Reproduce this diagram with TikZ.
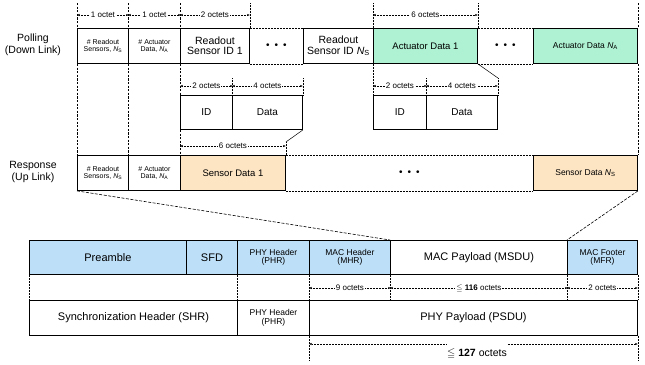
\documentclass[tikz,border=0pt]{standalone}
\usepackage{fontspec}
\setmainfont{Liberation Sans}
\usepackage{amssymb}
\usetikzlibrary{arrows.meta,calc}
\definecolor{cblue}{RGB}{189,223,248}
\definecolor{cgreen}{RGB}{174,242,211}
\definecolor{corange}{RGB}{253,229,196}
\newcommand{\fs}[1]{\fontsize{#1}{#1}\selectfont}
\newcommand{\ddd}{\textbullet\hspace{5pt}\textbullet\hspace{5pt}\textbullet}
\begin{document}
\begin{tikzpicture}[x=1pt,y=-1pt,
  cell/.style={draw, line width=0.9pt, fill=white, anchor=north west, inner sep=1pt, align=center, font=\fs{10}},
  dim/.style={densely dotted, line width=0.5pt, {Latex[length=2.5pt,width=2.2pt]}-{Latex[length=2.5pt,width=2.2pt]}},
  dimend/.style={densely dotted, line width=0.5pt, -{Latex[length=2.5pt,width=2.2pt]}},
  dl/.style={fill=white, inner sep=1pt, font=\fs{8}},
  guide/.style={dash pattern=on 2.2pt off 1.4pt, line width=0.6pt},
  ext/.style={densely dotted, line width=0.5pt},
  diag/.style={dash pattern=on 3pt off 1.5pt, line width=0.6pt}]
\useasboundingbox (0,0) rectangle (645,364);

% ---------- Polling row ----------
\node[cell, minimum width=51, minimum height=35, font=\fs{7}] (p1) at (77,28) {\# Readout\\Sensors,\ \textit{N}\textsubscript{S}};
\node[cell, minimum width=52, minimum height=35, font=\fs{7}] (p2) at (128,28) {\# Actuator\\Data,\ \textit{N}\textsubscript{A}};
\node[cell, minimum width=69, minimum height=35, font=\fs{10.5}] (p3) at (180,28) {Readout\\Sensor ID 1};
\node[cell, minimum width=70, minimum height=35, font=\fs{10.5}] (p4) at (303,28) {Readout\\Sensor ID \textit{N}\textsubscript{S}};
\node[cell, fill=cgreen, minimum width=104, minimum height=35, font=\fs{9.5}] (p5) at (373,28) {Actuator Data 1};
\node[cell, fill=cgreen, minimum width=104, minimum height=35, font=\fs{8.5}] (p6) at (533,28) {Actuator Data \textit{N}\textsubscript{A}};
\node[font=\fs{10}] (pd1) at ($(p3.east)!0.5!(p4.west)$) {\ddd};
\node[font=\fs{10}] (pd2) at ($(p5.east)!0.5!(p6.west)$) {\ddd};
\draw[ext] (p3.north east) -- (p4.north west);
\draw[ext] (p3.south east) -- (p4.south west);
\draw[ext] (p5.north east) -- (p6.north west);
\draw[ext] (p5.south east) -- (p6.south west);

% ---------- ID / Data ----------
\node[cell, minimum width=52, minimum height=34] (id1) at (180,95) {ID};
\node[cell, minimum width=70, minimum height=34] (da1) at (232,95) {Data};
\node[cell, minimum width=53, minimum height=34] (id2) at (373,95) {ID};
\node[cell, minimum width=71, minimum height=34] (da2) at (426,95) {Data};

% ---------- Response row ----------
\node[cell, minimum width=51, minimum height=35, font=\fs{7}] (r1) at (77,155) {\# Readout\\Sensors,\ \textit{N}\textsubscript{S}};
\node[cell, minimum width=52, minimum height=35, font=\fs{7}] (r2) at (128,155) {\# Actuator\\Data,\ \textit{N}\textsubscript{A}};
\node[cell, fill=corange, minimum width=105, minimum height=35, font=\fs{9.5}] (r3) at (180,155) {Sensor Data 1};
\node[cell, fill=corange, minimum width=104, minimum height=35, font=\fs{8.5}] (r4) at (533,155) {Sensor Data \textit{N}\textsubscript{S}};
\node[font=\fs{10}] (rd) at ($(r3.east)!0.5!(r4.west)$) {\ddd};
\draw[ext] (r3.north east) -- (r4.north west);
\draw[ext] (r3.south east) -- (r4.south west);

% ---------- side labels ----------
\node[align=center, font=\fs{10.5}] (lp) at (33,45) {Polling\\[1pt](Down Link)};
\node[align=center, font=\fs{10.5}] (lr) at (33,172) {Response\\[1pt](Up Link)};

% ---------- guide lines ----------
\draw[guide] (p1.north west |- 0,3) -- (p1.north west);
\draw[guide] (p1.south west) -- (r1.north west);
\draw[guide] (p2.north west |- 0,3) -- (p2.north west);
\draw[guide] (p2.south west) -- (r2.north west);
\draw[guide] (p3.north west |- 0,3) -- (p3.north west);
\draw[guide] (p3.south west) -- (id1.north west);
\draw[guide] (id1.south west) -- (r3.north west);
\draw[ext] (p3.north east |- 0,3) -- (p3.north east);
\draw[ext] (p5.north west |- 0,3) -- (p5.north west);
\draw[ext] (p5.south west) -- (id2.north west);
\draw[ext] (p5.north east |- 0,3) -- (p5.north east);
\draw[guide] (p6.north east |- 0,3) -- (p6.north east);
\draw[guide] (p6.south east) -- (r4.north east);
\draw[ext] (da1.north west |- 0,78) -- (da1.north west);
\draw[ext] (da1.north east |- 0,78) -- (da1.north east);
\draw[ext] (da2.north west |- 0,78) -- (da2.north west);
\draw[ext] (da2.north east |- 0,78) -- (da2.north east);
\draw[line width=0.5pt] (p5.south east) -- (da2.north east |- 0,78);
\draw[line width=0.5pt] (da1.south east) -- (r3.north east |- 0,142);
\draw[ext] (r3.north east |- 0,142) -- (r3.north east);

% ---------- dimension arrows ----------
\draw[dim] (p1.north west |- 0,15) -- node[dl]{1 octet} (p1.north east |- 0,15);
\draw[dim] (p2.north west |- 0,15) -- node[dl]{1 octet} (p2.north east |- 0,15);
\draw[dim] (p3.north west |- 0,15) -- node[dl]{2 octets} (p3.north east |- 0,15);
\draw[dim] (p5.north west |- 0,15) -- node[dl]{6 octets} (p5.north east |- 0,15);
\draw[dim] (id1.north west |- 0,86) -- node[dl]{2 octets} (id1.north east |- 0,86);
\draw[dim] (da1.north west |- 0,86) -- node[dl]{4 octets} (da1.north east |- 0,86);
\draw[dim] (id2.north west |- 0,86) -- node[dl]{2 octets} (id2.north east |- 0,86);
\draw[dim] (da2.north west |- 0,86) -- node[dl]{4 octets} (da2.north east |- 0,86);
\draw[dim] (r3.north west |- 0,146) -- node[dl]{6 octets} (r3.north east |- 0,146);

% ---------- bottom frame ----------
\node[cell, fill=cblue, minimum width=157, minimum height=34, font=\fs{11}] (b1) at (29,240) {Preamble};
\node[cell, fill=cblue, minimum width=51, minimum height=34, font=\fs{11}] (b2) at (186,240) {SFD};
\node[cell, fill=cblue, minimum width=72, minimum height=34, font=\fs{8.5}] (b3) at (237,240) {PHY Header\\(PHR)};
\node[cell, fill=cblue, minimum width=81, minimum height=34, font=\fs{8.5}] (b4) at (309,240) {MAC Header\\(MHR)};
\node[cell, minimum width=177, minimum height=34, font=\fs{11}] (b5) at (390,240) {MAC Payload (MSDU)};
\node[cell, fill=cblue, minimum width=70, minimum height=34, font=\fs{8.5}] (b6) at (567,240) {MAC Footer\\(MFR)};

\node[cell, minimum width=208, minimum height=35, font=\fs{11}] (c1) at (29,300) {Synchronization Header (SHR)};
\node[cell, minimum width=72, minimum height=35, font=\fs{8.5}] (c2) at (237,300) {PHY Header\\(PHR)};
\node[cell, minimum width=328, minimum height=35, font=\fs{11}] (c3) at (309,300) {PHY Payload (PSDU)};

\draw[ext] (b1.south west) -- (c1.north west);
\draw[ext] (b3.south west) -- (c2.north west);
\draw[ext] (b4.south west) -- (c3.north west);
\draw[ext] (b5.south west) -- (b5.south west |- c3.north);
\draw[ext] (b6.south west) -- (b6.south west |- c3.north);
\draw[ext] (b6.south east) -- (c3.north east);

\draw[dim] (b4.south west |- 0,288) -- node[dl]{9 octets} (b4.south east |- 0,288);
\draw[dim] (b5.south west |- 0,288) -- node[dl]{$\leqq$ \textbf{116} octets} (b5.south east |- 0,288);
\draw[dim] (b6.south west |- 0,288) -- node[dl]{2 octets} (b6.south east |- 0,288);

\draw[ext] (c3.south west) -- (c3.south west |- 0,360);
\draw[ext] (c3.south east) -- (c3.south east |- 0,360);
\node[font=\fs{10.5}, inner sep=1pt] (tot) at (477,354) {$\leqq$ \textbf{127} octets};
\draw[dimend] (tot.west |- 0,344) -- (c3.south west |- 0,344);
\draw[dimend] (tot.east |- 0,344) -- (c3.south east |- 0,344);

% ---------- expansion diagonals ----------
\draw[diag] (r1.south west) -- (b5.north west);
\draw[diag] (r4.south east) -- (b6.north west);
\end{tikzpicture}
\end{document}
